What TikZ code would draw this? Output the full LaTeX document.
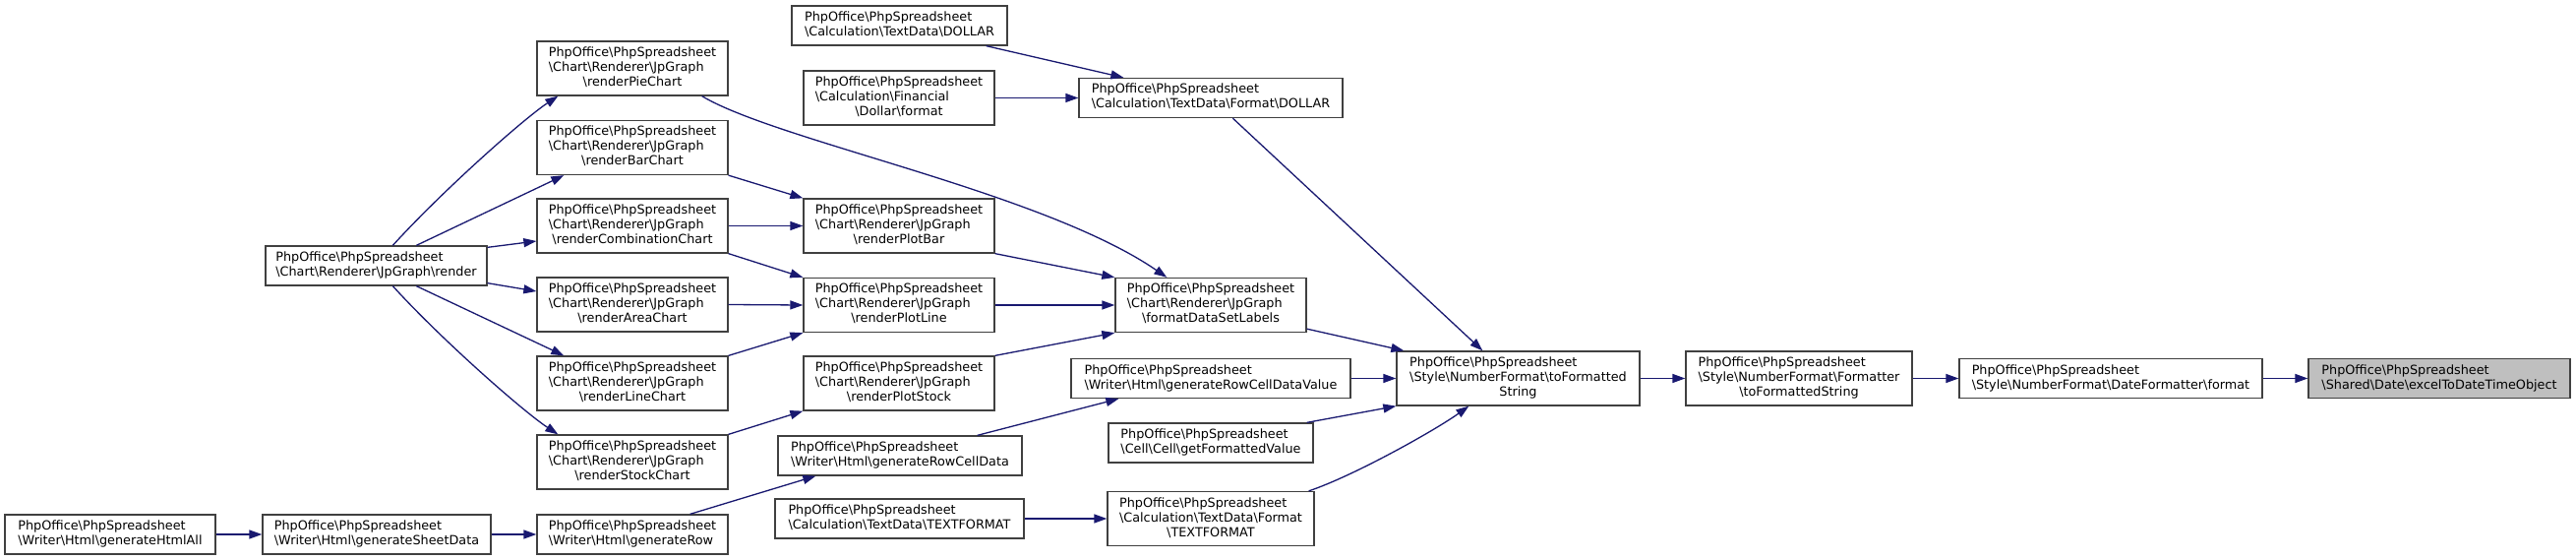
\documentclass[tikz,border=0pt]{standalone}
\usepackage{fontspec}
\setmainfont{DejaVu Sans}
\usetikzlibrary{arrows.meta, calc, positioning}
\definecolor{edgeblue}{HTML}{191970}
\definecolor{boxgray}{HTML}{404040}
\definecolor{hlgray}{HTML}{BFBFBF}
\newcommand{\phpbs}{\textbackslash}
\newcommand{\pps}{PhpOffice\phpbs PhpSpreadsheet}
\newcommand{\twolines}[2]{\begin{tabular}{@{}l@{}}#1\\#2\end{tabular}}
\newcommand{\threelines}[3]{\begin{tabular}{@{}l@{}}#1\\#2\\\multicolumn{1}{@{}c@{}}{#3}\end{tabular}}
\tikzset{
        >={Triangle[length=13pt,width=9pt]}, % filled heads of the call graph
        call/.style={->, draw=edgeblue, line width=1.3pt}, % one call
        fn box/.style={
		draw=boxgray,
		fill=white,
		line width=1.3pt,
		inner sep=0pt,
		minimum width={#1pt},
		minimum height={40pt},
		font=\fontsize{12.8}{15}\selectfont,
	  },
  		tall/.style={minimum height={55pt}},
  		current/.style={fill=hlgray},
    }

\begin{document}
\begin{tikzpicture}[x=1pt, y=-1pt]
    \useasboundingbox (0,0) rectangle (2619,569);
    % writers
    \node [fn box=214] (htmlall) at (112,543) {\twolines{\pps}{\phpbs Writer\phpbs Html\phpbs generateHtmlAll}};
    \node [fn box=232] (sheetdata) at (383,543) {\twolines{\pps}{\phpbs Writer\phpbs Html\phpbs generateSheetData}};
    \node [fn box=194] (genrow) at (643,543) {\twolines{\pps}{\phpbs Writer\phpbs Html\phpbs generateRow}};
    \node [fn box=248] (rowcelldata) at (915,463) {\twolines{\pps}{\phpbs Writer\phpbs Html\phpbs generateRowCellData}};
    \node [fn box=284] (rowcellvalue) at (1231,384.5) {\twolines{\pps}{\phpbs Writer\phpbs Html\phpbs generateRowCellDataValue}};
    % chart renderer
    \node [fn box=225] (render) at (382.5,270) {\twolines{\pps}{\phpbs Chart\phpbs Renderer\phpbs JpGraph\phpbs render}};
    \node [fn box=194, tall] (piechart) at (643,69.5) {\threelines{\pps}{\phpbs Chart\phpbs Renderer\phpbs JpGraph}{\phpbs renderPieChart}};
    \node [fn box=194, tall] (barchart) at (643,150) {\threelines{\pps}{\phpbs Chart\phpbs Renderer\phpbs JpGraph}{\phpbs renderBarChart}};
    \node [fn box=194, tall] (combochart) at (643,229.5) {\threelines{\pps}{\phpbs Chart\phpbs Renderer\phpbs JpGraph}{\phpbs renderCombinationChart}};
    \node [fn box=194, tall] (areachart) at (643,309.5) {\threelines{\pps}{\phpbs Chart\phpbs Renderer\phpbs JpGraph}{\phpbs renderAreaChart}};
    \node [fn box=194, tall] (linechart) at (643,389.5) {\threelines{\pps}{\phpbs Chart\phpbs Renderer\phpbs JpGraph}{\phpbs renderLineChart}};
    \node [fn box=194, tall] (stockchart) at (643,469.5) {\threelines{\pps}{\phpbs Chart\phpbs Renderer\phpbs JpGraph}{\phpbs renderStockChart}};
    \node [fn box=194, tall] (plotbar) at (914,229.5) {\threelines{\pps}{\phpbs Chart\phpbs Renderer\phpbs JpGraph}{\phpbs renderPlotBar}};
    \node [fn box=194, tall] (plotline) at (914,310) {\threelines{\pps}{\phpbs Chart\phpbs Renderer\phpbs JpGraph}{\phpbs renderPlotLine}};
    \node [fn box=194, tall] (plotstock) at (914,389.5) {\threelines{\pps}{\phpbs Chart\phpbs Renderer\phpbs JpGraph}{\phpbs renderPlotStock}};
    \node [fn box=194, tall] (labels) at (1231,310) {\threelines{\pps}{\phpbs Chart\phpbs Renderer\phpbs JpGraph}{\phpbs formatDataSetLabels}};
    % calculation
    \node [fn box=219] (tdollar) at (914.5,26) {\twolines{\pps}{\phpbs Calculation\phpbs TextData\phpbs DOLLAR}};
    \node [fn box=194, tall] (findollar) at (914,99.5) {\threelines{\pps}{\phpbs Calculation\phpbs Financial}{\phpbs Dollar\phpbs format}};
    \node [fn box=268] (fmtdollar) at (1231,99.5) {\twolines{\pps}{\phpbs Calculation\phpbs TextData\phpbs Format\phpbs DOLLAR}};
    \node [fn box=253] (ttextformat) at (914.5,527) {\twolines{\pps}{\phpbs Calculation\phpbs TextData\phpbs TEXTFORMAT}};
    \node [fn box=210, tall] (fmttextformat) at (1231,527) {\threelines{\pps}{\phpbs Calculation\phpbs TextData\phpbs Format}{\phpbs TEXTFORMAT}};
    \node [fn box=208] (getfmt) at (1231,450) {\twolines{\pps}{\phpbs Cell\phpbs Cell\phpbs getFormattedValue}};
    % number format chain
    \node [fn box=247, tall] (tofmt) at (1543.5,384.5) {\threelines{\pps}{\phpbs Style\phpbs NumberFormat\phpbs toFormatted}{String}};
    \node [fn box=230, tall] (formatter) at (1829,384.5) {\threelines{\pps}{\phpbs Style\phpbs NumberFormat\phpbs Formatter}{\phpbs toFormattedString}};
    \node [fn box=308] (datefmt) at (2146,384.5) {\twolines{\pps}{\phpbs Style\phpbs NumberFormat\phpbs DateFormatter\phpbs format}};
    \node [fn box=266, current] (exceldate) at (2480,384.5) {\twolines{\pps}{\phpbs Shared\phpbs Date\phpbs excelToDateTimeObject}};

    \draw [call] (htmlall.east) -- (sheetdata.west);
    \draw [call] (sheetdata.east) -- (genrow.west);
    \draw [call] ($(genrow.north east)+(-39,0)$) -- ($(rowcelldata.south west)+(39,0)$);
    \draw [call] ($(rowcelldata.north east)+(-46,0)$) -- ($(rowcellvalue.south west)+(49,0)$);
    \draw [call] (rowcellvalue.east) -- (tofmt.west);
    \draw [call] ($(getfmt.north east)+(-7,0)$) -- (tofmt.south west);
    \draw [call] (ttextformat.east) -- (fmttextformat.west);
    \draw [call] ($(fmttextformat.north east)+(-6,0)$) .. controls +(45,-15) and +(-35,25) .. ($(tofmt.south west)+(74,0)$);
    \draw [call] ($(tdollar.south east)+(-22,0)$) -- ($(fmtdollar.north west)+(46,0)$);
    \draw [call] (findollar.east) -- (fmtdollar.west);
    \draw [call] ($(fmtdollar.south west)+(157,0)$) -- ($(tofmt.north west)+(88,0)$);
    \draw [call] ($(labels.south east)+(0,-4)$) -- ($(tofmt.north west)+(8,0)$);
    \draw [call] (plotbar.south east) -- (labels.north west);
    \draw [call] (plotline.east) -- (labels.west);
    \draw [call] (plotstock.north east) -- (labels.south west);
    \draw [call] ($(piechart.south east)+(-27,0)$) .. controls +(77,46) and +(-127,-87) .. ($(labels.north west)+(53,0)$);
    \draw [call] (barchart.south east) -- (plotbar.north west);
    \draw [call] (combochart.east) -- (plotbar.west);
    \draw [call] (combochart.south east) -- (plotline.north west);
    \draw [call] (areachart.east) -- (plotline.west);
    \draw [call] (linechart.north east) -- (plotline.south west);
    \draw [call] (stockchart.north east) -- (plotstock.south west);
    \draw [call] ($(render.north west)+(130,0)$) .. controls +(50,-55) and +(-35,23) .. ($(piechart.south west)+(22,0)$);
    \draw [call] ($(render.north west)+(154,0)$) -- ($(barchart.south west)+(28,0)$);
    \draw [call] ($(render.north east)+(0,2)$) -- ($(combochart.west)+(0,15.5)$);
    \draw [call] ($(render.south east)+(0,-3)$) -- ($(areachart.west)+(0,-13.5)$);
    \draw [call] ($(render.south west)+(154,0)$) -- ($(linechart.north west)+(28,0)$);
    \draw [call] ($(render.south west)+(130,0)$) .. controls +(50,55) and +(-35,-23) .. ($(stockchart.north west)+(22,0)$);
    \draw [call] (tofmt.east) -- (formatter.west);
    \draw [call] (formatter.east) -- (datefmt.west);
    \draw [call] (datefmt.east) -- (exceldate.west);
\end{tikzpicture}
\end{document}
